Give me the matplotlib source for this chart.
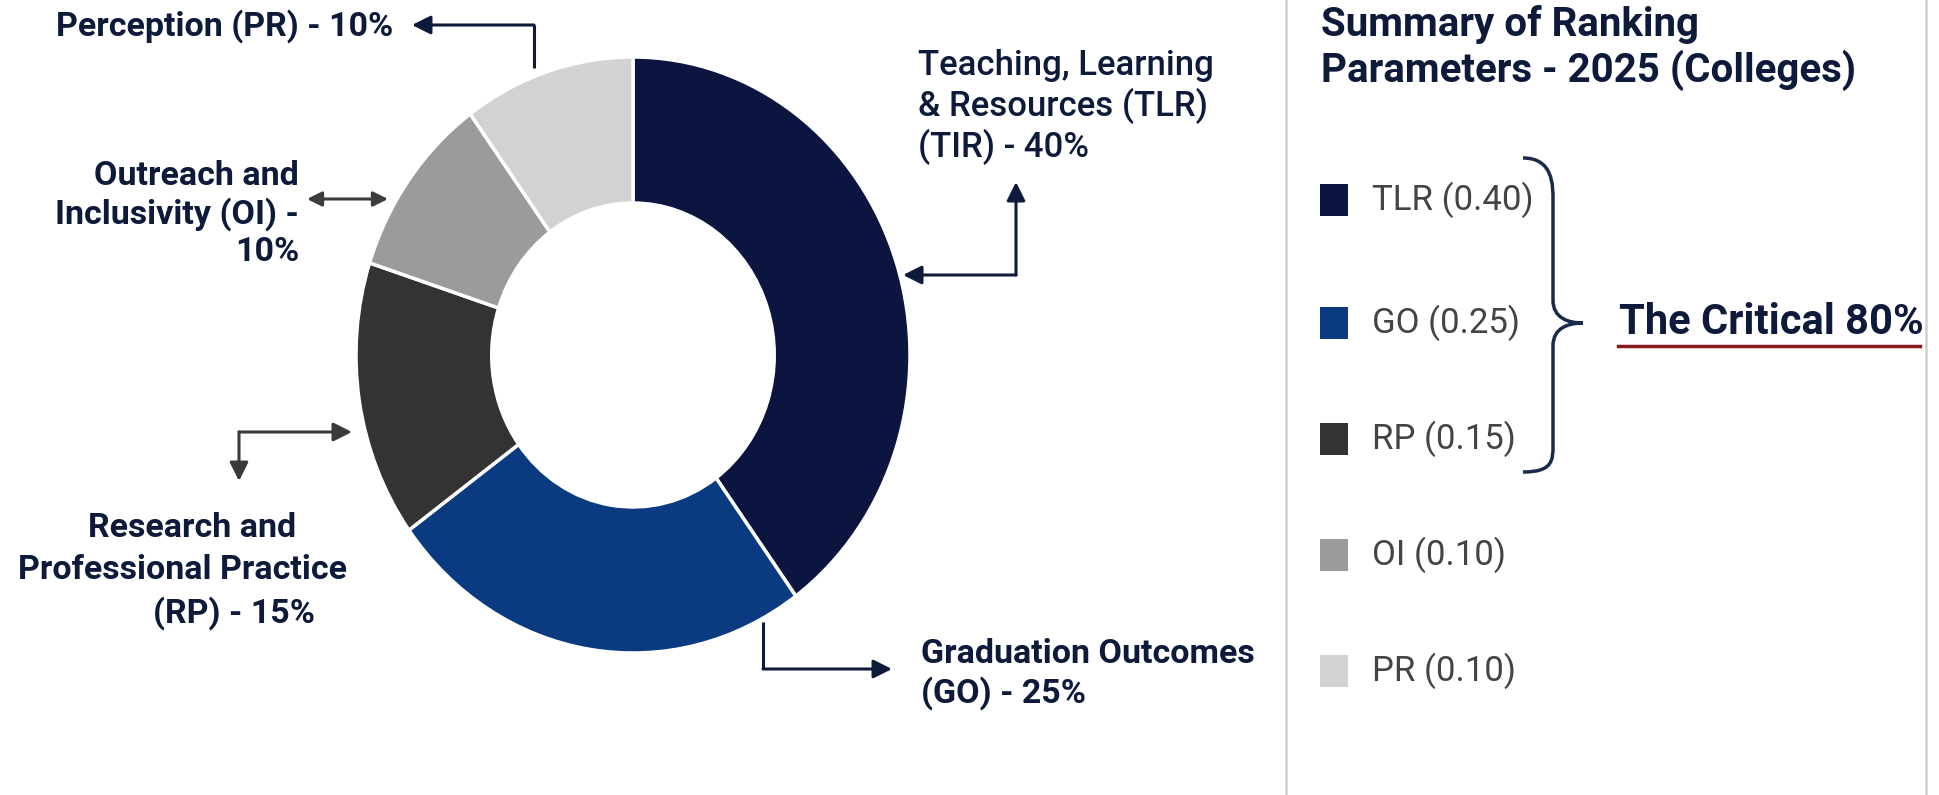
import matplotlib.pyplot as plt
from matplotlib.path import Path
from matplotlib.patches import PathPatch, Rectangle

plt.rcParams['font.family'] = ['Roboto', 'DejaVu Sans']

# data
codes = ['TLR', 'GO', 'RP', 'OI', 'PR']
weights = [0.40, 0.25, 0.15, 0.10, 0.10]
colors = ['#0b1540', '#0a3a80', '#333333', '#9b9b9b', '#d2d2d2']
title = 'Summary of Ranking\nParameters - 2025 (Colleges)'
critical_label = 'The Critical 80%'

navy = '#0d1a3a'

fig = plt.figure(figsize=(19.39, 7.95), dpi=100)

# donut (stretched a little vertically, like the source)
ax_pie = fig.add_axes([356 / 1939, 1 - 653 / 795, 554 / 1939, 596 / 795])
ax_pie.pie(weights, colors=colors, startangle=90, counterclock=False,
           wedgeprops=dict(width=0.49, edgecolor='white', linewidth=2.5))
ax_pie.set_aspect('auto')
ax_pie.set_xlim(-1, 1)
ax_pie.set_ylim(-1, 1)
ax_pie.axis('off')

# overlay in pixel coords
ax = fig.add_axes([0, 0, 1, 1], zorder=3)
ax.set_xlim(0, 1939)
ax.set_ylim(795, 0)
ax.axis('off')
ax.patch.set_alpha(0)


def elbow(points, color, heads='end'):
    xs = [p[0] for p in points]
    ys = [p[1] for p in points]
    ax.plot(xs[1:-1] if heads == 'both' else xs[:-1], ys[1:-1] if heads == 'both' else ys[:-1],
            color=color, lw=2.2, solid_capstyle='butt')
    props = dict(arrowstyle='-|>', lw=2.2, color=color, mutation_scale=28,
                 shrinkA=0, shrinkB=0)
    ax.annotate('', xy=points[-1], xytext=points[-2], arrowprops=props)
    if heads == 'both':
        ax.annotate('', xy=points[0], xytext=points[1], arrowprops=props)


lab = dict(fontsize=24.5, fontweight='bold', color=navy)

# Perception
ax.text(56, 26, 'Perception (PR) - 10%', ha='left', va='center', **lab)
elbow([(534, 68), (534, 25), (412, 25)], navy)

# Outreach
ax.text(299, 214, 'Outreach and\nInclusivity (OI) -\n10%', ha='right', va='center',
        multialignment='right', linespacing=1.2, **lab)
ax.annotate('', xy=(307, 199), xytext=(388, 199),
            arrowprops=dict(arrowstyle='<|-|>', lw=2.2, color='#3c3c3c',
                            mutation_scale=22, shrinkA=0, shrinkB=0))

# Research (lines sit a bit unevenly in the source)
ax.text(192, 528, 'Research and', ha='center', va='center', **lab)
ax.text(182, 570, 'Professional Practice', ha='center', va='center', **lab)
ax.text(234, 613, '(RP) - 15%', ha='center', va='center', **lab)
elbow([(239, 481), (239, 432), (352, 432)], '#3a3a3a', heads='both')

# Graduation
ax.text(921, 674, 'Graduation Outcomes\n(GO) - 25%', ha='left', va='center',
        multialignment='left', linespacing=1.2, **lab)
elbow([(763, 622), (763, 669), (892, 669)], navy)

# Teaching
ax.text(918, 107, 'Teaching, Learning\n& Resources (TLR)\n(TIR) - 40%', ha='left', va='center',
        multialignment='left', linespacing=1.2, fontsize=25, fontweight='medium', color=navy)
elbow([(903, 275), (1016, 275), (1016, 182)], navy, heads='both')

# right summary panel
ax.add_patch(Rectangle((1286, -10), 640, 820, fill=False, edgecolor='#cfcfcf', lw=1.8))
ax.text(1321, 48, title, ha='left', va='center', fontsize=29, fontweight='bold',
        color=navy, linespacing=1.15)

ys = [200, 323, 439, 555, 671]
for code, w, c, y in zip(codes, weights, colors, ys):
    ax.add_patch(Rectangle((1320, y - 16), 28, 32, facecolor=c, edgecolor='none'))
    ax.text(1372, y, f'{code} ({w:.2f})', ha='left', va='center', fontsize=25,
            color='#444444')

# brace over the first three
verts = [(1523, 158), (1553, 158), (1553, 185), (1553, 200),
         (1553, 300),
         (1553, 318), (1568, 323), (1583, 323),
         (1568, 323), (1553, 328), (1553, 346),
         (1553, 445),
         (1553, 460), (1553, 472), (1523, 472)]
path_codes = [Path.MOVETO, Path.CURVE4, Path.CURVE4, Path.CURVE4,
              Path.LINETO,
              Path.CURVE4, Path.CURVE4, Path.CURVE4,
              Path.CURVE4, Path.CURVE4, Path.CURVE4,
              Path.LINETO,
              Path.CURVE4, Path.CURVE4, Path.CURVE4]
ax.add_patch(PathPatch(Path(verts, path_codes), fill=False, edgecolor='#1a2a4a', lw=2.5))

ax.text(1619, 322, critical_label, ha='left', va='center', fontsize=30, fontweight='bold',
        color=navy)
ax.plot([1618, 1920], [346, 346], color='#8b1a1a', lw=2.5)

fig.savefig('out.png', dpi=100)
